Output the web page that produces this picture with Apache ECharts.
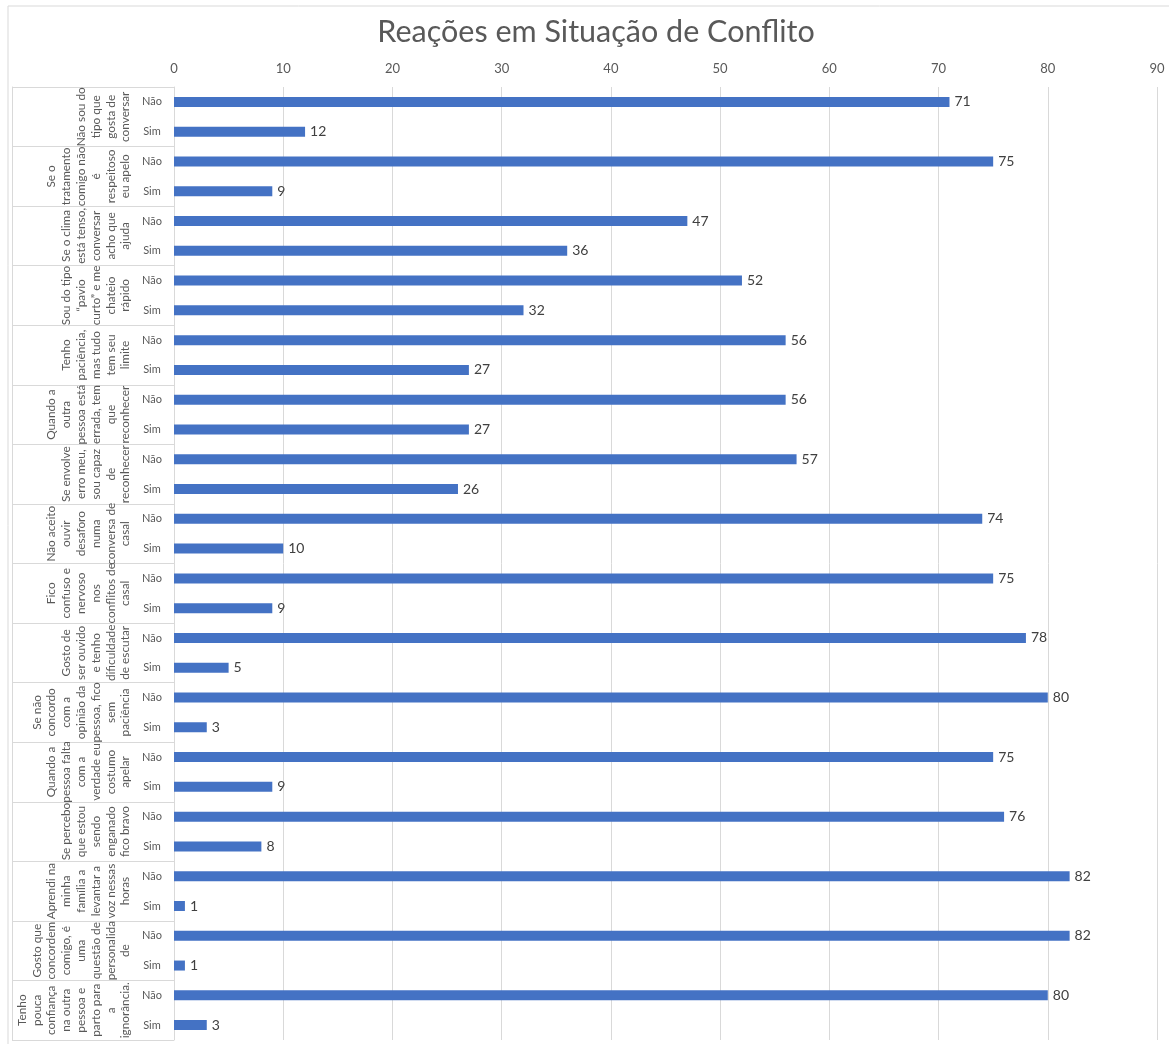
<!DOCTYPE html>
<html>
<head>
<meta charset="utf-8">
<title>Reações em Situação de Conflito</title>
<script src="https://cdn.jsdelivr.net/npm/echarts@6/dist/echarts.min.js"></script>
<style>
  html, body { margin: 0; padding: 0; background: #fff; }
  #chart { width: 1169px; height: 1044px; }
</style>
</head>
<body>
<div id="chart"></div>
<script>
// grupos de perguntas (com quebras de linha como no original)
var groupLabels = [
  'Não sou do\ntipo que\ngosta de\nconversar',
  'Se o\ntratamento\ncomigo não\né\nrespeitoso\neu apelo',
  'Se o clima\nestá tenso,\nconversar\nacho que\najuda',
  'Sou do tipo\n“pavio\ncurto” e me\nchateio\nrápido',
  'Tenho\npaciência,\nmas tudo\ntem seu\nlimite',
  'Quando a\noutra\npessoa está\nerrada, tem\nque\nreconhecer',
  'Se envolve\nerro meu,\nsou capaz\nde\nreconhecer',
  'Não aceito\nouvir\ndesaforo\nnuma\nconversa de\ncasal',
  'Fico\nconfuso e\nnervoso\nnos\nconflitos de\ncasal',
  'Gosto de\nser ouvido\ne tenho\ndificuldade\nde escutar',
  'Se não\nconcordo\ncom a\nopinião da\npessoa, fico\nsem\npaciência',
  'Quando a\npessoa falta\ncom a\nverdade eu\ncostumo\napelar',
  'Se percebo\nque estou\nsendo\nenganado\nfico bravo',
  'Aprendi na\nminha\nfamília a\nlevantar a\nvoz nessas\nhoras',
  'Gosto que\nconcordem\ncomigo, é\numa\nquestão de\npersonalida\nde',
  'Tenho\npouca\nconfiança\nna outra\npessoa e\nparto para\na\nignorância.'
];
var answerLabels = ['Não', 'Sim'];
var naoValues = [71, 75, 47, 52, 56, 56, 57, 74, 75, 78, 80, 75, 76, 82, 82, 80];
var simValues = [12, 9, 36, 32, 27, 27, 26, 10, 9, 5, 3, 9, 8, 1, 1, 3];
var xTicks = { min: 0, max: 90, interval: 10 };

// monta as 32 linhas (Não/Sim por grupo)
var rowLabels = [];
var rowValues = [];
for (var i = 0; i < groupLabels.length; i++) {
  rowLabels.push(answerLabels[0], answerLabels[1]);
  rowValues.push(naoValues[i], simValues[i]);
}

var gray = '#595959';
var lineGray = '#D9D9D9';
var font = 'Lato, "Open Sans", sans-serif';

var chart = echarts.init(document.getElementById('chart'));
chart.setOption({
  backgroundColor: '#fff',
  textStyle: { fontFamily: font },
  title: {
    text: 'Reações em Situação de Conflito',
    left: 591,
    textAlign: 'center',
    top: 12,
    textStyle: { fontSize: 30.5, fontWeight: 'normal', color: gray, fontFamily: font }
  },
  graphic: [{
    type: 'rect',
    shape: { x: 8, y: 6, width: 1180, height: 1060 },
    style: { fill: 'none', stroke: lineGray, lineWidth: 1 },
    silent: true
  }],
  grid: { left: 174, right: 12, top: 87, bottom: 4, containLabel: false },
  xAxis: {
    type: 'value',
    position: 'top',
    min: xTicks.min,
    max: xTicks.max,
    interval: xTicks.interval,
    axisLine: { show: false },
    axisTick: { show: false },
    axisLabel: { color: gray, fontSize: 13, margin: 12, fontFamily: font },
    splitLine: { lineStyle: { color: lineGray, width: 1 } }
  },
  yAxis: [
    {
      type: 'category',
      data: rowLabels,
      inverse: true,
      position: 'left',
      axisLine: { show: true, lineStyle: { color: lineGray } },
      axisTick: { show: false },
      axisLabel: { interval: 0, color: gray, fontSize: 11, align: 'center', margin: 22, fontFamily: font }
    },
    {
      type: 'category',
      data: groupLabels,
      inverse: true,
      position: 'left',
      axisLine: { show: false },
      axisTick: { show: true, length: 162, interval: 0, lineStyle: { color: lineGray } },
      axisLabel: { interval: 0, rotate: 90, color: gray, fontSize: 11.8, lineHeight: 14.8, margin: 41, fontFamily: font }
    },
    {
      type: 'category',
      data: groupLabels,
      inverse: true,
      position: 'left',
      offset: 162,
      axisLine: { show: true, lineStyle: { color: lineGray } },
      axisTick: { show: false },
      axisLabel: { show: false }
    }
  ],
  series: [{
    type: 'bar',
    yAxisIndex: 0,
    data: rowValues,
    barWidth: 10,
    itemStyle: { color: '#4472C4' },
    label: {
      show: true,
      position: 'right',
      distance: 5,
      color: '#404040',
      fontSize: 14,
      fontFamily: font
    },
    silent: true
  }]
});
</script>
</body>
</html>
